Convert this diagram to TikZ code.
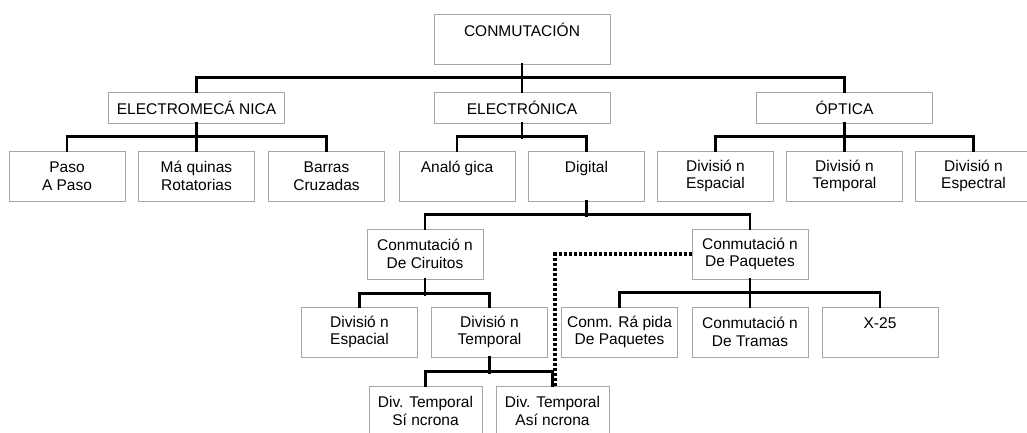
\documentclass[tikz,border=0pt]{standalone}
\usepackage{fontspec}
\setmainfont{Liberation Sans}
\usepackage{tikz}
\usetikzlibrary{positioning}

\tikzset{
    caja/.style={draw=gray!70, line width=1pt, rectangle, align=center, inner sep=0pt,
        font=\fontsize{15.5}{17.5}\selectfont, minimum width=116pt, minimum height=50pt},
    ancha/.style={caja, minimum width=176pt, minimum height=31pt},
    bus/.style={line width=2.8pt, line cap=rect},
    punteado/.style={line width=3.2pt, dash pattern=on 3pt off 2pt}
}

\begin{document}
\begin{tikzpicture}[x=1pt, y=-1pt]
        \useasboundingbox (0,0) rectangle (1027,432);
        \node[ancha, minimum height=50pt] (conm) at (522,39) {CONMUTACIÓN\\~};
        \node[ancha] (emec) at (196.5,107.5) {ELECTROMECÁ NICA};
        \node[ancha] (elec) at (522,107.5) {ELECTRÓNICA};
        \node[ancha] (opt) at (844.5,107.5) {ÓPTICA};
        \node[caja] (paso) at (67,176) {Paso\\A Paso};
        \node[caja] (maq) at (196.5,176) {Má quinas\\Rotatorias};
        \node[caja] (barras) at (326.5,176) {Barras\\Cruzadas};
        \node[caja] (analog) at (457,176) {Analó gica\\~};
        \node[caja] (digital) at (586.5,176) {Digital\\~};
        \node[caja] (oesp) at (715.5,176) {Divisió n\\Espacial};
        \node[caja] (otemp) at (844.5,176) {Divisió n\\Temporal};
        \node[caja] (ospec) at (973.5,176) {Divisió n\\Espectral};
        \node[caja] (circ) at (425,254) {Conmutació n\\De Ciruitos};
        \node[caja] (paq) at (750,254) {Conmutació n\\De Paquetes};
        \node[caja] (cesp) at (359.5,332) {Divisió n\\Espacial};
        \node[caja] (ctemp) at (489.5,332) {Divisió n\\Temporal};
        \node[caja] (rapida) at (619.5,332) {Conm. Rá pida\\De Paquetes};
        \node[caja] (tramas) at (750,332) {Conmutació n\\De Tramas};
        \node[caja] (x25) at (880,332) {X-25\\~};
        \node[caja, minimum width=113pt] (sinc) at (425.5,411) {Div. Temporal\\Sí ncrona};
        \node[caja, minimum width=113pt] (asinc) at (552.5,411) {Div. Temporal\\Así ncrona};
        \draw[bus] (emec.north) -- ++(0,-14) -| (opt.north);
        \draw[bus] (conm.south) -- (elec.north);
        \draw[bus] (paso.north) -- ++(0,-14) -| (barras.north);
        \draw[bus] (emec.south) -- (maq.north);
        \draw[bus] (analog.north) -- ++(0,-14) -| (digital.north);
        \draw[bus] (elec.south) -- ++(0,14);
        \draw[bus] (oesp.north) -- ++(0,-14) -| (ospec.north);
        \draw[bus] (opt.south) -- (otemp.north);
        \draw[bus] (circ.north) -- ++(0,-14) -| (paq.north);
        \draw[bus] (digital.south) -- ++(0,14);
        \draw[bus] (cesp.north) -- ++(0,-13) -| (ctemp.north);
        \draw[bus] (circ.south) -- ++(0,15);
        \draw[bus] (rapida.north) -- ++(0,-14) -| (x25.north);
        \draw[bus] (paq.south) -- (tramas.north);
        \draw[bus] (sinc.north) -- ++(0,-14) -| (asinc.north);
        \draw[bus] (ctemp.south) -- ++(0,15);
        \draw[punteado] (paq.west) -| ([xshift=2.5pt]asinc.north);
    \end{tikzpicture}
\end{document}
